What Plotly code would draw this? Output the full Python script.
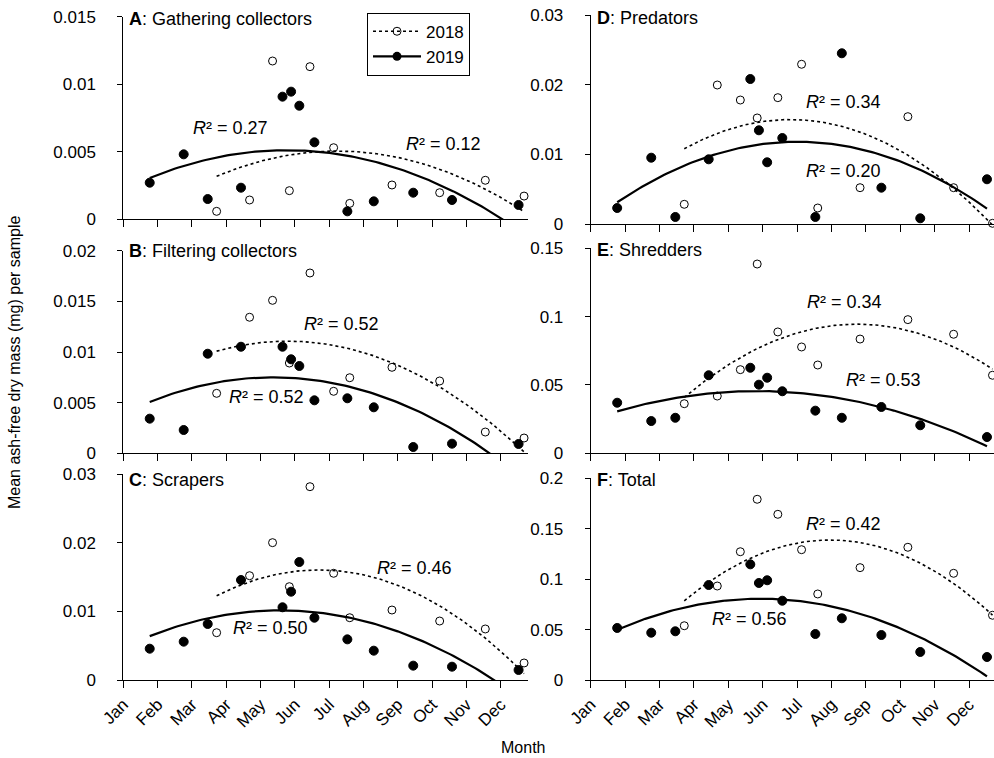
import numpy as np
import plotly.graph_objects as go

# ---------------- data ----------------
month_labels = ["Jan", "Feb", "Mar", "Apr", "May", "Jun", "Jul", "Aug", "Sep", "Oct", "Nov", "Dec"]
month_ticks = list(range(12))

# sampling dates (months since 1 Jan)
dates_2018 = [2.72, 3.68, 4.35, 4.84, 5.44, 6.13, 6.60, 7.83, 9.22, 10.55, 11.68]
dates_2019 = [0.77, 1.76, 2.46, 3.43, 4.64, 4.89, 5.13, 5.57, 6.53, 7.30, 8.45, 9.58, 11.52]

panel_letters = ["A", "B", "C", "D", "E", "F"]
panel_names = ["Gathering collectors", "Filtering collectors", "Scrapers", "Predators", "Shredders", "Total"]

gath_2018 = [0.00059, 0.00143, 0.01172, 0.00212, 0.0113, 0.0053, 0.00118, 0.00254, 0.00197, 0.00289, 0.00172]
gath_2019 = [0.00271, 0.00481, 0.0015, 0.00234, 0.00908, 0.00945, 0.00841, 0.0057, 0.00059, 0.00133, 0.00197, 0.00143, 0.00106]
filt_2018 = [0.00592, 0.01343, 0.0151, 0.00891, 0.0178, 0.00612, 0.00746, 0.00849, 0.00714, 0.0021, 0.00151]
filt_2019 = [0.00342, 0.0023, 0.00983, 0.01052, 0.01052, 0.00928, 0.00862, 0.00523, 0.00543, 0.00454, 0.00062, 0.00095, 0.00092]
scrap_2018 = [0.00689, 0.01519, 0.02, 0.01359, 0.02815, 0.01554, 0.00907, 0.01019, 0.00859, 0.00743, 0.00248]
scrap_2019 = [0.00456, 0.00558, 0.00816, 0.01456, 0.01059, 0.01286, 0.01718, 0.00907, 0.00592, 0.00427, 0.00209, 0.00194, 0.00146]
pred_2018 = [0.00283, 0.01998, 0.01782, 0.01524, 0.01816, 0.02296, 0.0023, 0.00522, 0.01543, 0.00522, 0.0001]
pred_2019 = [0.0023, 0.00953, 0.00101, 0.0093, 0.02084, 0.01347, 0.00887, 0.01236, 0.00101, 0.02454, 0.00522, 0.00082, 0.00643]
shred_2018 = [0.0363, 0.0419, 0.0612, 0.1385, 0.0888, 0.0778, 0.0646, 0.0836, 0.0978, 0.0871, 0.0571]
shred_2019 = [0.037, 0.0236, 0.026, 0.0571, 0.0626, 0.0502, 0.0553, 0.0454, 0.0312, 0.026, 0.0339, 0.0205, 0.0119]
total_2018 = [0.0538, 0.0932, 0.1272, 0.1792, 0.1643, 0.1292, 0.0853, 0.1114, 0.1316, 0.1058, 0.0642]
total_2019 = [0.0516, 0.0469, 0.0483, 0.0942, 0.1147, 0.0962, 0.0989, 0.0786, 0.0456, 0.0612, 0.0446, 0.0278, 0.0228]

r2_2018 = ["0.12", "0.52", "0.46", "0.34", "0.34", "0.42"]
r2_2019 = ["0.27", "0.52", "0.50", "0.20", "0.53", "0.56"]

yticks_A = ["0", "0.005", "0.01", "0.015"]
yticks_B = ["0", "0.005", "0.01", "0.015", "0.02"]
yticks_C = ["0", "0.01", "0.02", "0.03"]
yticks_D = ["0", "0.01", "0.02", "0.03"]
yticks_E = ["0", "0.05", "0.1", "0.15"]
yticks_F = ["0", "0.05", "0.1", "0.15", "0.2"]

series_2018 = [gath_2018, filt_2018, scrap_2018, pred_2018, shred_2018, total_2018]
series_2019 = [gath_2019, filt_2019, scrap_2019, pred_2019, shred_2019, total_2019]
ytick_sets = [yticks_A, yticks_B, yticks_C, yticks_D, yticks_E, yticks_F]

# ---------------- layout geometry ----------------
W, H = 994, 758
FONT = "Liberation Sans, Arial, sans-serif"

def px_x(p):
    return p / W

def px_y(p):
    return 1 - p / H

# (x domain px, y top px, y bottom px, x range end)
geom = [
    ((123.3, 527.5), 16.7, 219.3, 11.78),
    ((123.3, 527.5), 250.7, 453.3, 11.78),
    ((123.3, 527.5), 474.0, 680.0, 11.78),
    ((590.7, 994.0), 15.3, 224.0, 11.724),
    ((590.7, 994.0), 248.3, 453.3, 11.724),
    ((590.7, 994.0), 478.3, 680.0, 11.724),
]
# R² label positions (data coords): (2018 x, y), (2019 x, y)
r2_pos = [
    ((9.33, 0.00557), (3.11, 0.00674)),
    ((6.37, 0.01273), (4.18, 0.00556)),
    ((8.50, 0.01635), (4.28, 0.00762)),
    ((7.36, 0.01750), (7.34, 0.00766)),
    ((7.39, 0.11050), (8.51, 0.05360)),
    ((7.34, 0.15440), (4.63, 0.06050)),
]
title_pos = [(126.7, 19), (126.7, 251), (126.7, 480), (595, 18.3), (595, 250), (595, 480)]

fig = go.Figure()
annotations = []

for i in range(6):
    ax = "" if i == 0 else str(i + 1)
    xref, yref = "x" + ax, "y" + ax
    (xd0, xd1), ytop, ybot, xend = geom[i]
    ticks = ytick_sets[i]
    ymax = float(ticks[-1])
    bottom = i in (2, 5)

    fig.update_layout(**{
        "xaxis" + ax: dict(
            domain=[px_x(xd0), min(px_x(xd1), 1.0)], range=[0, xend], anchor=yref,
            tickmode="array", tickvals=month_ticks, ticktext=month_labels,
            showticklabels=bottom, tickangle=-45, ticks="outside", ticklen=7,
            tickwidth=1, tickcolor="black", showline=True, linecolor="black",
            linewidth=1, showgrid=False, zeroline=False, automargin=False,
            tickfont=dict(family=FONT, size=17, color="black"),
        ),
        "yaxis" + ax: dict(
            domain=[px_y(ybot), px_y(ytop)], range=[0, ymax], anchor=xref,
            tickmode="array", tickvals=[float(t) for t in ticks], ticktext=ticks,
            ticks="outside", ticklen=5, tickwidth=1, tickcolor="black",
            showline=True, linecolor="black", linewidth=1, showgrid=False,
            zeroline=False, ticklabelstandoff=18, automargin=False,
            tickfont=dict(family=FONT, size=17, color="black"),
        ),
    })

    for dates, vals, dash, filled in (
        (dates_2018, series_2018[i], "dot", False),
        (dates_2019, series_2019[i], "solid", True),
    ):
        coef = np.polyfit(dates, vals, 2)
        xs = np.linspace(min(dates), max(dates), 120)
        fig.add_trace(go.Scatter(
            x=xs, y=np.polyval(coef, xs), mode="lines", xaxis=xref, yaxis=yref,
            line=dict(color="black", width=1.6 if dash == "dot" else 2.2, dash=dash),
            showlegend=False, hoverinfo="skip",
        ))
        fig.add_trace(go.Scatter(
            x=dates, y=vals, mode="markers", xaxis=xref, yaxis=yref, cliponaxis=False,
            marker=dict(symbol="circle" if filled else "circle-open", size=9 if filled else 8,
                        color="black", line=dict(color="black", width=1)),
            showlegend=False,
        ))

    (x18, y18), (x19, y19) = r2_pos[i]
    for (xx, yy), r in (((x18, y18), r2_2018[i]), ((x19, y19), r2_2019[i])):
        annotations.append(dict(
            x=xx, y=yy, xref=xref, yref=yref, text="<i>R</i>² = " + r,
            showarrow=False, font=dict(family=FONT, size=18, color="black"),
            xanchor="center", yanchor="middle",
        ))
    tx, ty = title_pos[i]
    annotations.append(dict(
        x=px_x(tx), y=px_y(ty), xref="paper", yref="paper",
        text="<b>" + panel_letters[i] + "</b>: " + panel_names[i],
        showarrow=False, xanchor="left", yanchor="middle",
        font=dict(family=FONT, size=18, color="black"),
    ))

# legend entries
fig.add_trace(go.Scatter(
    x=[None], y=[None], mode="lines+markers", name="2018",
    line=dict(color="black", width=1.6, dash="dot"),
    marker=dict(symbol="circle-open", size=8, color="black", line=dict(width=1)),
))
fig.add_trace(go.Scatter(
    x=[None], y=[None], mode="lines+markers", name="2019",
    line=dict(color="black", width=2.2),
    marker=dict(symbol="circle", size=9, color="black"),
))

annotations.append(dict(
    x=px_x(15), y=px_y(362), xref="paper", yref="paper", textangle=-90,
    text="Mean ash-free dry mass (mg) per sample", showarrow=False,
    font=dict(family=FONT, size=16, color="black"), xanchor="center", yanchor="middle",
))
annotations.append(dict(
    x=px_x(522.7), y=px_y(747), xref="paper", yref="paper", text="Month",
    showarrow=False, font=dict(family=FONT, size=16, color="black"),
    xanchor="center", yanchor="middle",
))

fig.update_layout(
    width=W, height=H, margin=dict(l=0, r=0, t=0, b=0, autoexpand=False),
    paper_bgcolor="white", plot_bgcolor="white",
    font=dict(family=FONT, color="black"),
    annotations=annotations,
    showlegend=True,
    legend=dict(
        x=px_x(367), y=px_y(12.7), xanchor="left", yanchor="top",
        bordercolor="black", borderwidth=1, bgcolor="white",
        font=dict(family=FONT, size=17, color="black"),
        itemwidth=48, tracegroupgap=0,
    ),
)

fig.write_html(
    "out.html",
    config={"displayModeBar": False},
    post_script="document.body.style.margin='0';document.body.style.overflow='hidden';",
)
